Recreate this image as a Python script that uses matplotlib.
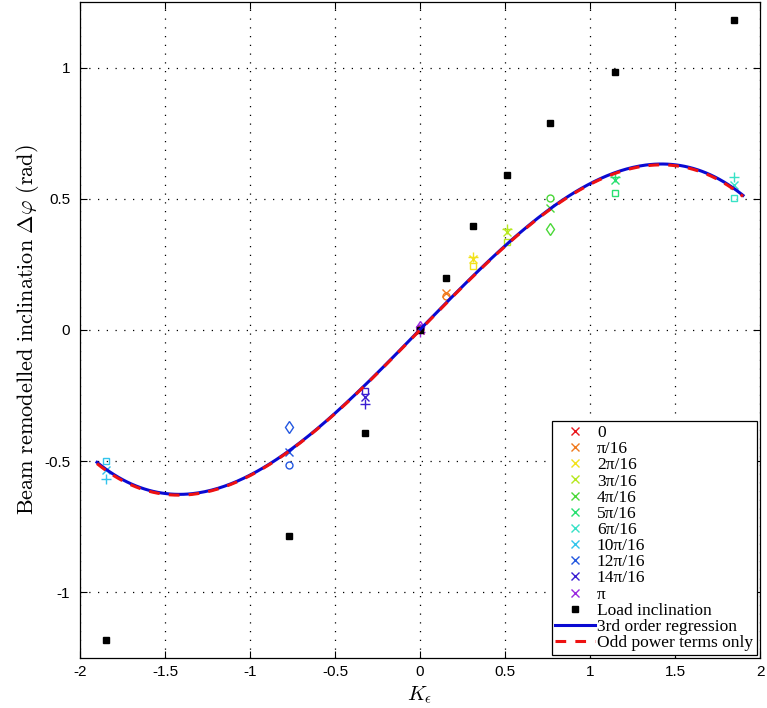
import numpy as np
import matplotlib
matplotlib.use('Agg')
import matplotlib.pyplot as plt

plt.rcParams['mathtext.fontset'] = 'cm'
plt.rcParams['font.family'] = ['Liberation Sans', 'DejaVu Sans']
plt.rcParams['axes.unicode_minus'] = False

# load angle groups
angle_labels = ['0', 'π/16', '2π/16', '3π/16', '4π/16', '5π/16',
                '6π/16', '10π/16', '12π/16', '14π/16', 'π']
angle_colors = ['#e8161c', '#f07a1e', '#f2e21a', '#b6e81e', '#4ad838', '#28e070',
                '#38e2c6', '#32c4ec', '#2458e0', '#3a1ed2', '#9a28e0']

k_eps = [0.0, 0.153, 0.312, 0.512, 0.765, 1.147, 1.847, -1.847, -0.77, -0.324, 0.0]
nan = np.nan
x_vals = [0.0, 0.141, 0.272, 0.374, 0.466, 0.573, 0.553, -0.534, -0.466, -0.256, 0.0]
plus_vals = [nan, nan, 0.279, 0.386, nan, 0.583, 0.584, -0.569, nan, -0.282, -0.008]
square_vals = [nan, nan, 0.244, 0.336, nan, 0.523, 0.504, -0.500, nan, -0.233, nan]
circle_vals = [0.004, 0.130, nan, nan, 0.504, nan, nan, nan, -0.515, nan, 0.006]
diamond_vals = [nan, nan, nan, nan, 0.385, nan, nan, nan, -0.370, nan, 0.012]

# load inclination
load_k = [-1.847, -0.77, -0.324, 0.0, 0.153, 0.312, 0.512, 0.765, 1.147, 1.847]
load_vals = [-1.180, -0.786, -0.392, 0.0, 0.198, 0.395, 0.592, 0.788, 0.985, 1.180]

# fitted polynomials (highest power first)
coef_full = [-0.1102, 0.0008, 0.6655, 0.0015]
coef_odd = [-0.1100, 0.0, 0.6650, 0.0]
fit_range = [-1.9, 1.9]

fig = plt.figure(figsize=(7.67, 7.08), dpi=100)
ax = fig.add_axes([0.1043, 0.0706, 0.8866, 0.9266])

ms = 5.5
for i in range(len(angle_labels)):
    c = angle_colors[i]
    ax.plot(k_eps[i], x_vals[i], 'x', color=c, ms=ms, mew=1, label=angle_labels[i], zorder=3)
    ax.plot(k_eps[i], plus_vals[i], '+', color=c, ms=ms + 1, mew=1, zorder=3)
    ax.plot(k_eps[i], square_vals[i], 's', color=c, ms=ms - 1, mew=1, mfc='none', zorder=3)
    ax.plot(k_eps[i], circle_vals[i], 'o', color=c, ms=ms - 0.5, mew=1, mfc='none', zorder=3)
    ax.plot(k_eps[i], diamond_vals[i], 'd', color=c, ms=ms + 0.5, mew=1, mfc='none', zorder=3)

ax.plot(load_k, load_vals, 's', color='black', ms=4.5, label='Load inclination', zorder=4)

xs = np.linspace(fit_range[0], fit_range[1], 300)
ax.plot(xs, np.polyval(coef_full, xs), color='#0a0ad2', lw=2.2,
        label='3rd order regression', zorder=5)
ax.plot(xs, np.polyval(coef_odd, xs), '--', color='#ee1111', lw=2.2, dashes=(3.5, 3),
        label='Odd power terms only', zorder=6)

ax.set_xlim(-2, 2)
ax.set_ylim(-1.25, 1.25)
ax.set_xticks(np.arange(-2, 2.01, 0.5))
ax.set_xticklabels(['-2', '-1.5', '-1', '-0.5', '0', '0.5', '1', '1.5', '2'])
ax.set_yticks([-1, -0.5, 0, 0.5, 1])
ax.set_yticklabels(['-1', '-0.5', '0', '0.5', '1'])
ax.tick_params(direction='in', top=True, right=True, labelsize=11, length=5, width=0.8)
ax.tick_params(axis='x', pad=5)
ax.tick_params(axis='y', pad=7)
ax.grid(True, color='black', linestyle=(0, (1, 6)), lw=0.9)
for s in ax.spines.values():
    s.set_linewidth(0.9)

ax.set_xlabel(r'$K_\epsilon$', fontsize=15, labelpad=4)
ax.set_ylabel(r'$\mathrm{Beam\ remodelled\ inclination}\ \Delta\varphi\ \mathrm{(rad)}$',
              fontsize=16, labelpad=2)

leg = ax.legend(loc='lower right', prop={'family': ['Liberation Serif', 'DejaVu Serif'], 'size': 12.5},
                labelspacing=0.0, handlelength=2.3, handletextpad=0.1, borderpad=0.2,
                borderaxespad=0.2, fancybox=False, framealpha=1, edgecolor='black')
leg.get_frame().set_linewidth(0.9)

fig.savefig('out.png', dpi=100)
